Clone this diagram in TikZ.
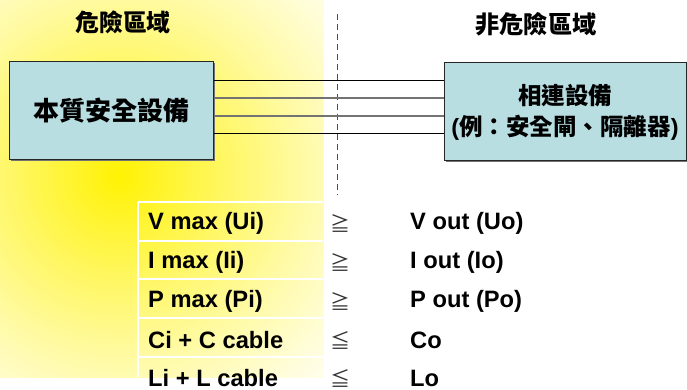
\documentclass[tikz,border=0pt]{standalone}
\usepackage{fontspec}
\usetikzlibrary{shadows}
\setmainfont{Liberation Sans}
\newfontfamily\cjk{Noto Sans CJK TC}
\definecolor{boxblue}{RGB}{184,222,226}
\tikzset{
  equip/.style={draw=black!85, line width=1pt, fill=boxblue, inner sep=0pt,
    drop shadow={shadow xshift=1.5pt, shadow yshift=-1.5pt, fill=black!55, opacity=1}},
  zonelabel/.style={font=\cjk\bfseries\fontsize{23.8}{26}\selectfont, inner sep=0pt},
  rowtext/.style={font=\bfseries\fontsize{23.7}{26}\selectfont, anchor=west, inner sep=0pt},
  relsym/.style={font=\cjk\fontsize{20}{24}\selectfont, text=black!80, inner sep=0pt},
  wire/.style={line width=0.8pt, black},
  graywire/.style={line width=1.2pt, black!55},
  gridline/.style={white, line width=1.5pt},
}
\begin{document}
\begin{tikzpicture}[x=1pt, y=-1pt]
\useasboundingbox (0,0) rectangle (687,390);
% hazardous-area gradient (concentric rings)
\begin{scope}
  \clip (0,0) rectangle (323,377);
  \coordinate (gc) at (120,176);
  \foreach \r in {340,336,...,4}{
    \pgfmathsetmacro\q{max(0,1-\r/330)}
    \pgfmathsetmacro\p{100*\q^1.25}
    \fill[yellow!\p!white] (gc) circle [radius=\r pt];
  }
\end{scope}
% table grid lines
\foreach \yy in {202,241,279,318,357}{
  \draw[gridline] (138,\yy) -- (323,\yy);
}
\draw[gridline] (138,202) -- (138,377);
% zone labels
\node[zonelabel] (hz) at (123,22) {危險區域};
\node[zonelabel, font=\cjk\bfseries\fontsize{24.2}{26}\selectfont] (nhz) at (536,24) {非危險區域};
% divider
\coordinate (dtop) at (337,14);
\coordinate (dbot) at (337,195);
\draw[black!70, line width=0.8pt, dash pattern=on 6pt off 4pt] (dtop) -- (dbot);
% equipment boxes
\node[equip, minimum width=204pt, minimum height=98pt,
      font=\cjk\bfseries\fontsize{26}{28}\selectfont] (L) at (111,111) {本質安全設備};
\node[equip, minimum width=242pt, minimum height=98pt, align=center,
      font=\cjk\bfseries\fontsize{23.5}{32}\selectfont] (R) at (565,112)
      {相連設備\\[-1pt]{\fontspec{Liberation Sans}\bfseries(}例：安全閘、隔離器{\fontspec{Liberation Sans}\bfseries)}};
% wires
\draw[wire] (L.east |- 0,80) -- (R.west |- 0,80);
\draw[graywire] (L.east |- 0,98) -- (R.west |- 0,98);
\draw[graywire] (L.east |- 0,116) -- (R.west |- 0,116);
\draw[wire] (L.east |- 0,133) -- (R.west |- 0,133);
% table rows
\node[rowtext] (a1) at (148,223) {V max (Ui)};
\node[relsym] (s1) at (340,223) {≧};
\node[rowtext] (b1) at (410,223) {V out (Uo)};
\node[rowtext] (a2) at (148,262) {I max (Ii)};
\node[relsym] (s2) at (340,262) {≧};
\node[rowtext] (b2) at (410,262) {I out (Io)};
\node[rowtext] (a3) at (148,301) {P max (Pi)};
\node[relsym] (s3) at (340,301) {≧};
\node[rowtext] (b3) at (410,301) {P out (Po)};
\node[rowtext] (a4) at (148,340) {Ci + C cable};
\node[relsym] (s4) at (340,340) {≦};
\node[rowtext] (b4) at (410,340) {Co};
\node[rowtext] (a5) at (148,378) {Li + L cable};
\node[relsym] (s5) at (340,378) {≦};
\node[rowtext] (b5) at (410,378) {Lo};
\end{tikzpicture}
\end{document}
